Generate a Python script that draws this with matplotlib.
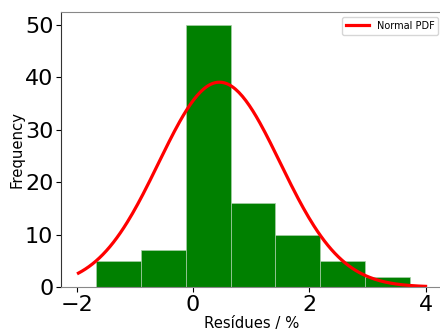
import numpy as np
import matplotlib
matplotlib.use("Agg")
import matplotlib.pyplot as plt

# Histogram data
bin_edges = [-1.665, -0.894, -0.123, 0.648, 1.419, 2.190, 2.961, 3.732]
counts = [5, 7, 50, 16, 10, 5, 2]

# Normal PDF curve parameters (scaled)
pdf_mu = 0.455
pdf_sigma = 1.045
pdf_peak = 39.1
pdf_x_range = [-1.97, 4.0]

fig = plt.figure(figsize=(4.40, 3.31), dpi=100)
ax = fig.add_axes([61/440, 1 - 287/331, (443 - 61)/440, (287 - 12)/331])

ax.hist(bin_edges[:-1], bins=bin_edges, weights=counts, color='green',
        edgecolor='#a8cfa8', linewidth=0.5)

x = np.linspace(pdf_x_range[0], pdf_x_range[1], 200)
y = pdf_peak * np.exp(-(x - pdf_mu) ** 2 / (2 * pdf_sigma ** 2))
ax.plot(x, y, color='red', linewidth=2.3, label='Normal PDF')

ax.set_xlim(-2.27, 4.30)
ax.set_ylim(0, 52.5)
ax.set_xticks([-2, 0, 2, 4])
ax.set_yticks([0, 10, 20, 30, 40, 50])
ax.tick_params(labelsize=16, pad=2)
ax.set_xlabel('Resídues / %', fontsize=10.7, labelpad=1)
ax.set_ylabel('Frequency', fontsize=10.7, labelpad=0)

for s in ['top', 'bottom', 'right']:
    ax.spines[s].set_color('#888888')
ax.spines['left'].set_color('#333333')

ax.legend(loc='upper right', fontsize=7, handlelength=2.3)

fig.savefig('out.png', dpi=100)
